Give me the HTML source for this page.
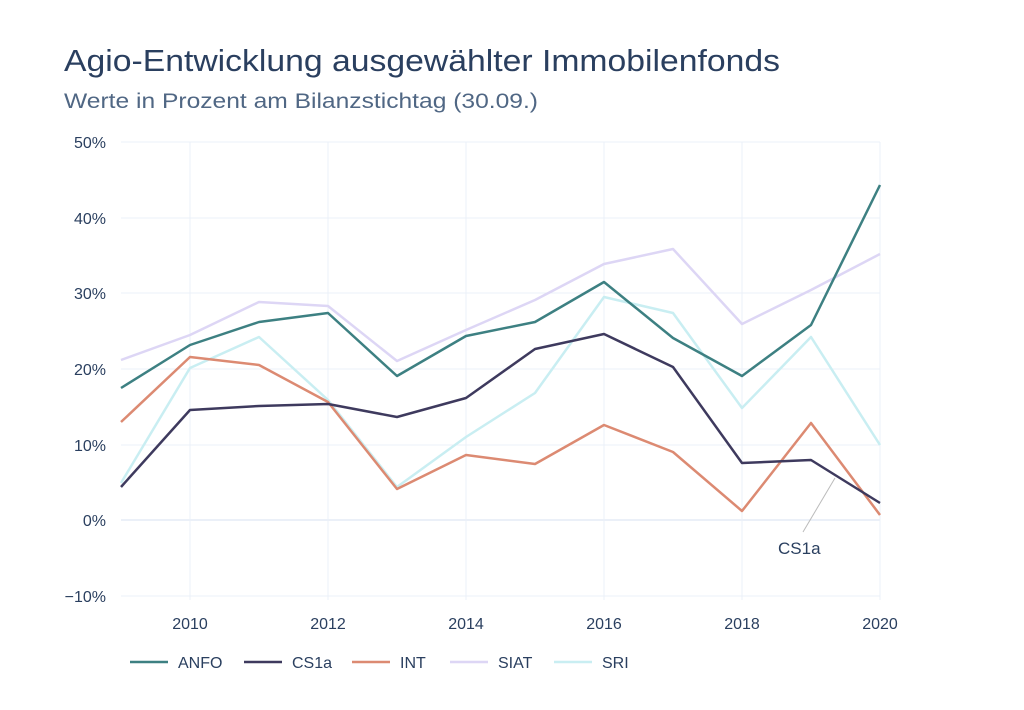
<!DOCTYPE html>
<html><head><meta charset="utf-8"><style>
body{margin:0;background:#fff;}
svg{display:block;font-family:"Liberation Sans",sans-serif;}
</style></head><body>
<svg width="1024" height="710" viewBox="0 0 1024 710">
<rect width="1024" height="710" fill="#fff"/>
<text x="64" y="71" font-size="31" fill="#2a3f5f" textLength="716" lengthAdjust="spacingAndGlyphs">Agio-Entwicklung ausgewählter Immobilenfonds</text>
<text x="64" y="108" font-size="21" fill="#506784" textLength="474" lengthAdjust="spacingAndGlyphs">Werte in Prozent am Bilanzstichtag (30.09.)</text>
<g stroke="#ebf0f8" stroke-width="1">
<line x1="190" y1="142" x2="190" y2="600"/><line x1="328" y1="142" x2="328" y2="600"/>
<line x1="466" y1="142" x2="466" y2="600"/><line x1="604" y1="142" x2="604" y2="600"/>
<line x1="742" y1="142" x2="742" y2="600"/><line x1="880" y1="142" x2="880" y2="600"/>
<line x1="121" y1="142" x2="880" y2="142"/><line x1="121" y1="218" x2="880" y2="218"/>
<line x1="121" y1="293" x2="880" y2="293"/><line x1="121" y1="369" x2="880" y2="369"/>
<line x1="121" y1="445" x2="880" y2="445"/><line x1="121" y1="596" x2="880" y2="596"/>
</g>
<line x1="121" y1="520" x2="880" y2="520" stroke="#ebf0f8" stroke-width="2"/>
<g font-size="16" fill="#2a3f5f" text-anchor="end">
<text x="106" y="148">50%</text><text x="106" y="224">40%</text><text x="106" y="299">30%</text>
<text x="106" y="375">20%</text><text x="106" y="451">10%</text><text x="106" y="526">0%</text><text x="106" y="602">−10%</text>
</g>
<g font-size="16" fill="#2a3f5f" text-anchor="middle">
<text x="190" y="629">2010</text><text x="328" y="629">2012</text><text x="466" y="629">2014</text>
<text x="604" y="629">2016</text><text x="742" y="629">2018</text><text x="880" y="629">2020</text>
</g>
<g fill="none" stroke-width="2.5" stroke-linejoin="round">
<polyline stroke="#ddd6f5" points="121,360 190,335 259,302 328,306 397,361 466,330 535,300 604,264 673,249 742,324 811,290 880,254"/>
<polyline stroke="#c9eef2" points="121,483 190,368 259,337 328,400 397,487 466,437 535,393 604,297 673,313 742,408 811,337 880,445"/>
<polyline stroke="#dc8a72" points="121,422 190,357 259,365 328,402 397,489 466,455 535,464 604,425 673,452 742,511 811,423 880,515"/>
<polyline stroke="#3e3a5e" points="121,487 190,410 259,406 328,404 397,417 466,398 535,349 604,334 673,367 742,463 811,460 880,503"/>
<polyline stroke="#3d8082" points="121,388 190,345 259,322 328,313 397,376 466,336 535,322 604,282 673,338 742,376 811,325 880,185"/>
</g>
<line x1="835" y1="478" x2="803" y2="532" stroke="#bbb" stroke-width="1"/>
<text x="778" y="554" font-size="17" fill="#2a3f5f">CS1a</text>
<g font-size="16" fill="#2a3f5f" stroke-width="2.5">
<line x1="130" y1="662" x2="168" y2="662" stroke="#3d8082"/><text x="178" y="668">ANFO</text>
<line x1="244" y1="662" x2="282" y2="662" stroke="#3e3a5e"/><text x="292" y="668">CS1a</text>
<line x1="352" y1="662" x2="390" y2="662" stroke="#dc8a72"/><text x="400" y="668">INT</text>
<line x1="450" y1="662" x2="488" y2="662" stroke="#ddd6f5"/><text x="498" y="668">SIAT</text>
<line x1="554" y1="662" x2="592" y2="662" stroke="#c9eef2"/><text x="602" y="668">SRI</text>
</g>
</svg>
</body></html>
